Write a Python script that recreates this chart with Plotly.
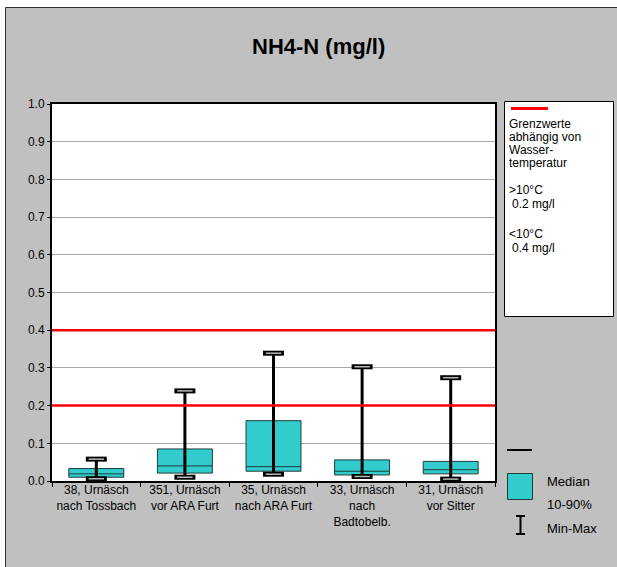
import plotly.graph_objects as go

# Sampling sites along the Urnäsch
sites = [
    "38, Urnäsch<br>nach Tossbach",
    "351, Urnäsch<br>vor ARA Furt",
    "35, Urnäsch<br>nach ARA Furt",
    "33, Urnäsch<br>nach<br>Badtobelb.",
    "31, Urnäsch<br>vor Sitter",
]

# NH4-N statistics per site (mg/l)
nh4_min = [0.006, 0.010, 0.018, 0.012, 0.005]
nh4_p10 = [0.010, 0.021, 0.026, 0.016, 0.019]
nh4_median = [0.019, 0.040, 0.038, 0.026, 0.030]
nh4_p90 = [0.033, 0.085, 0.160, 0.056, 0.052]
nh4_max = [0.058, 0.239, 0.339, 0.303, 0.274]

# Limit values depending on water temperature (mg/l)
limits = [0.2, 0.4]

y_ticks = [i / 10 for i in range(11)]

FONT = "Liberation Sans, Arial, sans-serif"
TEAL = "#33CCCC"
EDGE = "#1e3c3c"
BG = "#C0C0C0"

W, H = 617, 567
L, R, T, B = 52, 495, 104, 481


def px(x):
    return (x - L) / (R - L)


def py(y):
    return (B - y) / (B - T)


fig = go.Figure()

# 10-90 % boxes with median line
fig.add_trace(go.Box(
    x=sites,
    q1=nh4_p10,
    median=nh4_median,
    q3=nh4_p90,
    lowerfence=nh4_p10,
    upperfence=nh4_p90,
    width=0.62,
    whiskerwidth=0,
    fillcolor=TEAL,
    line=dict(color=EDGE, width=1),
    boxpoints=False,
    showlegend=False,
    hoverinfo="skip",
))

# Min-max whiskers
wx, wy = [], []
for s, lo, hi in zip(sites, nh4_min, nh4_max):
    wx += [s, s, None]
    wy += [lo, hi, None]
fig.add_trace(go.Scatter(
    x=wx, y=wy, mode="lines",
    line=dict(color="black", width=3),
    showlegend=False, hoverinfo="skip",
))

# Whisker end caps (hollow bars)
cap_x = sites + sites
cap_y = nh4_min + nh4_max
fig.add_trace(go.Scatter(
    x=cap_x, y=cap_y, mode="markers",
    marker=dict(symbol="line-ew", size=15, line=dict(color="black", width=5)),
    showlegend=False, hoverinfo="skip",
))
fig.add_trace(go.Scatter(
    x=cap_x, y=cap_y, mode="markers",
    marker=dict(symbol="line-ew", size=11, line=dict(color="#b8b8b8", width=1.5)),
    showlegend=False, hoverinfo="skip",
))

shapes = [
    # gray chart frame
    dict(type="rect", xref="paper", yref="paper",
         x0=px(5.5), x1=px(660), y0=py(7.5), y1=py(620),
         fillcolor=BG, line=dict(color="#303030", width=1), layer="below"),
    # white plot area
    dict(type="rect", xref="paper", yref="paper", x0=0, x1=1, y0=0, y1=1,
         fillcolor="white", line=dict(width=0), layer="below"),
    # limit-value legend box
    dict(type="rect", xref="paper", yref="paper",
         x0=px(504.5), x1=px(613.5), y0=py(101.5), y1=py(316.5),
         fillcolor="white", line=dict(color="black", width=1)),
    dict(type="line", xref="paper", yref="paper",
         x0=px(511), x1=px(548), y0=py(108.5), y1=py(108.5),
         line=dict(color="red", width=3)),
    # statistics legend
    dict(type="line", xref="paper", yref="paper",
         x0=px(507), x1=px(532), y0=py(450), y1=py(450),
         line=dict(color="black", width=2)),
    dict(type="rect", xref="paper", yref="paper",
         x0=px(507.5), x1=px(532.5), y0=py(473.5), y1=py(499.5),
         fillcolor=TEAL, line=dict(color=EDGE, width=1)),
    dict(type="line", xref="paper", yref="paper",
         x0=px(520.5), x1=px(520.5), y0=py(516), y1=py(534),
         line=dict(color="black", width=2)),
    dict(type="line", xref="paper", yref="paper",
         x0=px(516), x1=px(525), y0=py(516), y1=py(516),
         line=dict(color="black", width=2)),
    dict(type="line", xref="paper", yref="paper",
         x0=px(516), x1=px(525), y0=py(534), y1=py(534),
         line=dict(color="black", width=2)),
]

# limit lines across the plot area
for v in limits:
    shapes.append(dict(type="line", xref="paper", yref="y",
                       x0=0, x1=1, y0=v, y1=v,
                       line=dict(color="#FF0000", width=2.5)))

annotations = [
    dict(text="<b>NH4-N (mg/l)</b>", x=px(318), y=py(46),
         font=dict(size=22, color="black", family=FONT)),
]

box_lines = [
    ("Grenzwerte", 508, 124),
    ("abhängig von", 508, 137),
    ("Wasser-", 508, 150),
    ("temperatur", 508, 163),
    (">10°C", 508, 190),
    ("0.2 mg/l", 511, 204),
    ("<10°C", 508, 234),
    ("0.4 mg/l", 511, 248),
]
for txt, x, y in box_lines:
    annotations.append(dict(text=txt, x=px(x), y=py(y), xanchor="left",
                            font=dict(size=12, color="black", family=FONT)))

stat_lines = [
    ("Median", 546, 481),
    ("10-90%", 546, 504),
    ("Min-Max", 546, 528),
]
for txt, x, y in stat_lines:
    annotations.append(dict(text=txt, x=px(x), y=py(y), xanchor="left",
                            font=dict(size=13, color="black", family=FONT)))

for a in annotations:
    a.setdefault("xref", "paper")
    a.setdefault("yref", "paper")
    a.setdefault("showarrow", False)
    a.setdefault("yanchor", "middle")
    a.setdefault("xanchor", "center")
    a.setdefault("borderpad", 0)

fig.update_layout(
    width=W, height=H,
    margin=dict(l=L, r=W - R, t=T, b=H - B, pad=0),
    paper_bgcolor="white",
    plot_bgcolor="white",
    font=dict(family=FONT, size=12, color="black"),
    showlegend=False,
    shapes=shapes,
    annotations=annotations,
    xaxis=dict(
        type="category",
        categoryorder="array", categoryarray=sites,
        range=[-0.5, len(sites) - 0.5],
        showgrid=False,
        tickson="boundaries",
        tickangle=0,
        automargin=False,
        ticks="outside", ticklen=4, tickcolor="black", tickwidth=1,
        ticklabelstandoff=-3,
        showline=True, linecolor="black", linewidth=2, mirror=True,
        tickfont=dict(size=12, family=FONT, color="black"),
    ),
    yaxis=dict(
        range=[0, 1],
        tickvals=y_ticks,
        tickformat=".1f",
        automargin=False,
        showgrid=True, gridcolor="#a8a8a8", gridwidth=1,
        zeroline=False,
        ticks="outside", ticklen=3, tickcolor="black", tickwidth=1,
        showline=True, linecolor="black", linewidth=2, mirror=True,
        tickfont=dict(size=12, family=FONT, color="black"),
    ),
)

fig.write_html("out.html")
